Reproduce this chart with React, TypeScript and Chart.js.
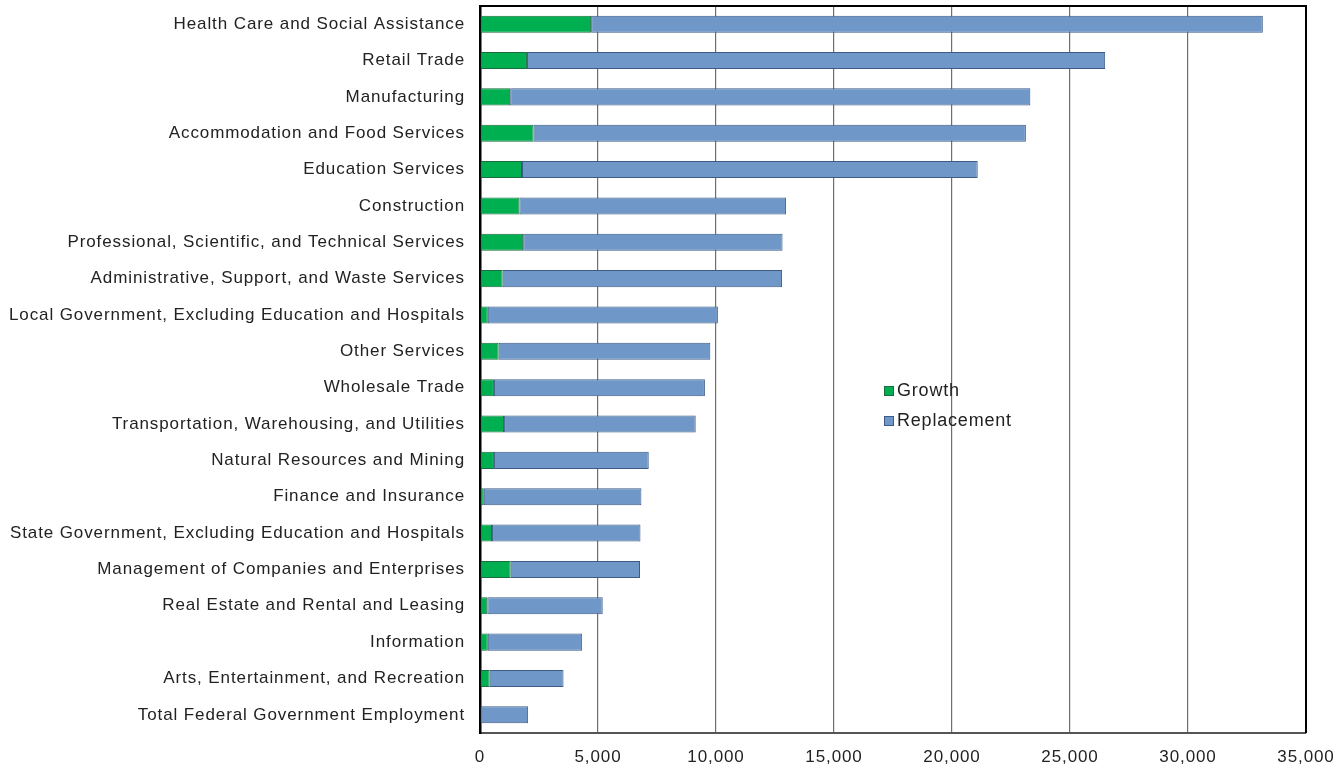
import React, { useEffect, useRef } from "react";
import { Chart, registerables } from "chart.js";

Chart.register(...registerables);

const categories = [
  "Health Care and Social Assistance",
  "Retail Trade",
  "Manufacturing",
  "Accommodation and Food Services",
  "Education Services",
  "Construction",
  "Professional, Scientific, and Technical Services",
  "Administrative, Support, and Waste Services",
  "Local Government, Excluding Education and Hospitals",
  "Other Services",
  "Wholesale Trade",
  "Transportation, Warehousing, and Utilities",
  "Natural Resources and Mining",
  "Finance and Insurance",
  "State Government, Excluding Education and Hospitals",
  "Management of Companies and Enterprises",
  "Real Estate and Rental and Leasing",
  "Information",
  "Arts, Entertainment, and Recreation",
  "Total Federal Government Employment",
];

const growth = [
  4710, 1990, 1280, 2270, 1780, 1670, 1830, 960, 330, 790,
  590, 1020, 590, 160, 510, 1300, 310, 330, 410, 0,
];

const replacement = [
  28460, 24500, 22040, 20860, 19310, 11300, 10990, 11840, 9750, 8970,
  8940, 8120, 6560, 6680, 6290, 5480, 4890, 4000, 3130, 2040,
];

const seriesNames = ["Growth", "Replacement"];
const xMin = 0;
const xMax = 35000;
const xStep = 5000;

const FONT = "'Liberation Sans', Arial, sans-serif";
const GREEN = "#00B050";
const GREEN_BORDER = "#1A6B3E";
const BLUE = "#6F97C8";
const BLUE_BORDER = "#3B5A85";

const framePlugin = {
  id: "framePlugin",
  beforeDraw(chart: any) {
    (chart.ctx as any).letterSpacing = "0.9px";
  },
  afterDraw(chart: any) {
    const { ctx, chartArea } = chart;
    ctx.save();
    ctx.strokeStyle = "#000";
    ctx.lineWidth = 2;
    ctx.beginPath();
    ctx.moveTo(chartArea.left, chartArea.top);
    ctx.lineTo(chartArea.right, chartArea.top);
    ctx.lineTo(chartArea.right, chartArea.bottom);
    ctx.stroke();

    // legend
    const lx = chartArea.left + 404;
    const items = [
      { name: seriesNames[0], fill: GREEN, border: GREEN_BORDER, y: 391 },
      { name: seriesNames[1], fill: BLUE, border: BLUE_BORDER, y: 421 },
    ];
    ctx.font = `18px ${FONT}`;
    (ctx as any).letterSpacing = "0.8px";
    ctx.textBaseline = "middle";
    ctx.textAlign = "left";
    for (const it of items) {
      ctx.fillStyle = it.fill;
      ctx.fillRect(lx, it.y - 5, 10, 10);
      ctx.strokeStyle = it.border;
      ctx.lineWidth = 1;
      ctx.strokeRect(lx + 0.5, it.y - 4.5, 9, 9);
      ctx.fillStyle = "#222";
      ctx.fillText(it.name, lx + 13, it.y);
    }
    ctx.restore();
  },
};

export default function App() {
  const ref = useRef<HTMLCanvasElement>(null);

  useEffect(() => {
    document.body.style.margin = "0";
    const canvas = ref.current!;
    const chart = new Chart(canvas, {
      type: "bar",
      data: {
        labels: categories,
        datasets: [
          {
            label: seriesNames[0],
            data: growth,
            backgroundColor: GREEN,
            borderColor: GREEN_BORDER,
            borderWidth: 1,
            borderSkipped: false,
          },
          {
            label: seriesNames[1],
            data: replacement,
            backgroundColor: BLUE,
            borderColor: BLUE_BORDER,
            borderWidth: 1,
            borderSkipped: false,
          },
        ],
      },
      options: {
        indexAxis: "y",
        animation: false,
        responsive: false,
        maintainAspectRatio: false,
        datasets: {
          bar: { barPercentage: 0.47, categoryPercentage: 1 },
        },
        layout: { padding: { left: 0, right: 30, top: 6, bottom: 0 } },
        plugins: {
          legend: { display: false },
          tooltip: { enabled: false },
        },
        scales: {
          x: {
            stacked: true,
            min: xMin,
            max: xMax,
            ticks: {
              stepSize: xStep,
              padding: 14,
              color: "#222",
              font: { family: FONT, size: 17 },
            },
            grid: {
              color: "#6e6e6e",
              lineWidth: 1.2,
              drawTicks: false,
            },
            border: { display: true, color: "#555", width: 2 },
            afterFit(scale: any) {
              scale.height = 36;
              scale.paddingLeft = 0;
              scale.paddingRight = 0;
            },
          } as any,
          y: {
            stacked: true,
            ticks: {
              padding: 15,
              color: "#222",
              font: { family: FONT, size: 17 },
              autoSkip: false,
            },
            grid: { display: false, drawTicks: false },
            border: { display: true, color: "#000", width: 2.5 },
            afterFit(scale: any) {
              scale.width = 480;
              scale.paddingTop = 0;
              scale.paddingBottom = 0;
            },
          } as any,
        },
      },
      plugins: [framePlugin],
    });
    return () => chart.destroy();
  }, []);

  return (
    <div style={{ position: "absolute", left: 0, top: 0, width: 1336, height: 769, background: "#fff" }}>
      <canvas ref={ref} width={1336} height={769} style={{ width: 1336, height: 769 }} />
    </div>
  );
}
